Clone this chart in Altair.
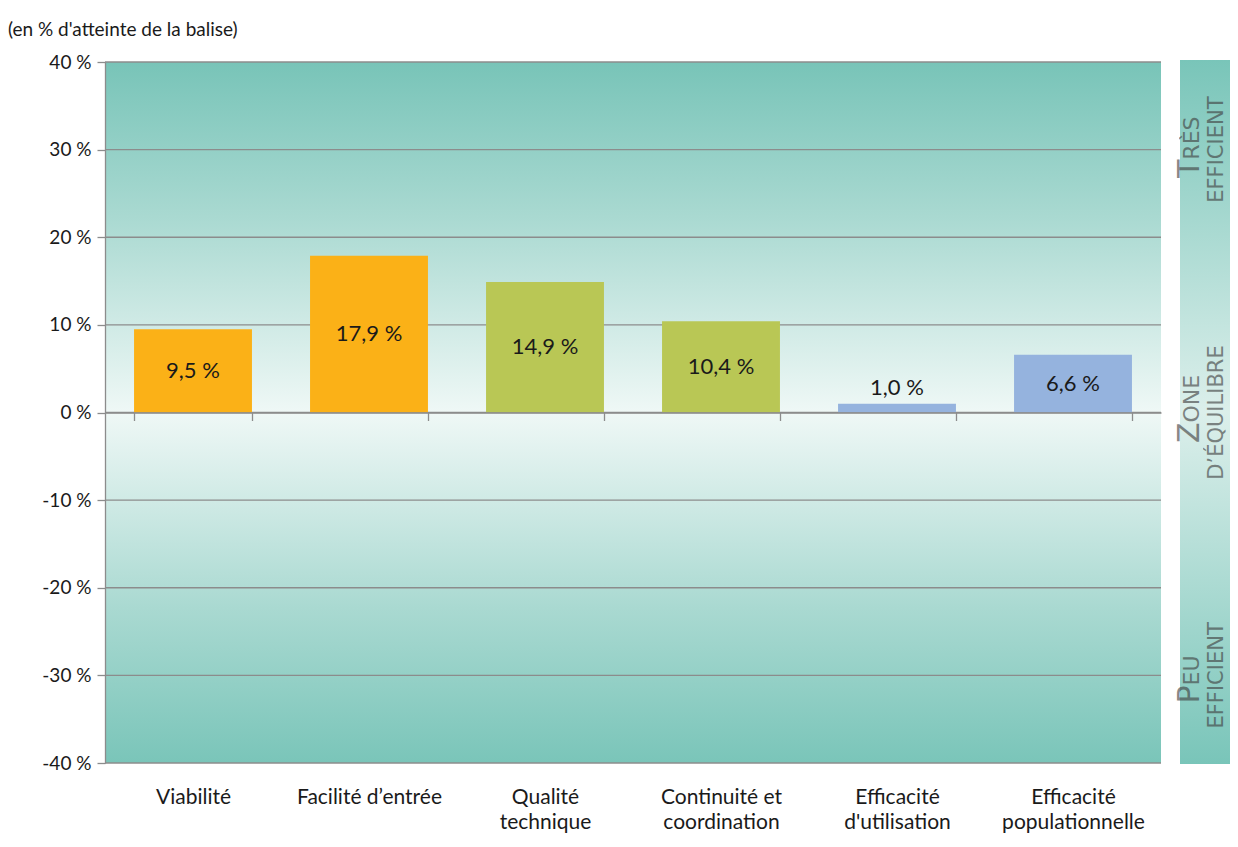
import altair as alt
import pandas as pd

# ---------------- data ----------------
categories = [
    "Viabilité",
    "Facilité d’entrée",
    "Qualité\ntechnique",
    "Continuité et\ncoordination",
    "Efficacité\nd'utilisation",
    "Efficacité\npopulationnelle",
]
values = [9.5, 17.9, 14.9, 10.4, 1.0, 6.6]
bar_colors = ["#FBB117", "#FBB117", "#B9C755", "#B9C755", "#95B3DE", "#95B3DE"]
y_ticks = [-40, -30, -20, -10, 0, 10, 20, 30, 40]
y_domain = [-40, 40]

zone_initials = ["T", "Z", "P"]
zone_rest = ["RÈS", "ONE", "EU"]
zone_line2 = ["EFFICIENT", "D’ÉQUILIBRE", "EFFICIENT"]
zone_centers = [30, 0, -30]

title_text = "(en % d'atteinte de la balise)"

# ---------------- layout ----------------
W, H = 1056, 701
PAD = {"left": 97, "top": 54, "right": 69, "bottom": 71}
FONT = "Lato"
TXT = "#1a1a1a"
GRID = "#8c8c8c"

df = pd.DataFrame({"cat": categories, "value": values})
ticks_df = pd.DataFrame({"v": y_ticks})
bg_df = pd.DataFrame({"top": [y_domain[1]], "bottom": [y_domain[0]]})
zones_df = pd.DataFrame({
    "initial": zone_initials,
    "rest": zone_rest,
    "line2": zone_line2,
    "center": zone_centers,
})

yscale = alt.Scale(domain=y_domain, nice=False, zero=False)
xscale = alt.Scale(domain=categories, paddingInner=0.33, paddingOuter=0.165)

bg_grad = alt.LinearGradient(
    gradient="linear",
    stops=[
        alt.GradientStop(color="#78c4b8", offset=0),
        alt.GradientStop(color="#a9d9d1", offset=0.22),
        alt.GradientStop(color="#eff8f6", offset=0.5),
        alt.GradientStop(color="#a9d9d1", offset=0.78),
        alt.GradientStop(color="#7ac5b9", offset=1),
    ],
    x1=0, x2=0, y1=0, y2=1,
)
panel_grad = alt.LinearGradient(
    gradient="linear",
    stops=[
        alt.GradientStop(color="#79c5b9", offset=0),
        alt.GradientStop(color="#dcefeb", offset=0.5),
        alt.GradientStop(color="#79c5b9", offset=1),
    ],
    x1=0, x2=0, y1=0, y2=1,
)

yaxis = alt.Axis(
    values=y_ticks, labelExpr="datum.value + ' %'", grid=False,
    domainColor=GRID, domainWidth=1.3, tickColor=GRID, tickWidth=1.3, tickSize=8,
    labelPadding=6, labelFont=FONT, labelFontSize=19, labelColor=TXT,
    title=None, zindex=1,
)
xaxis = alt.Axis(
    orient="bottom", offset=-H / 2, domainColor=GRID, domainWidth=1.5,
    tickColor=GRID, tickWidth=1.3, tickSize=8, tickBand="extent",
    labelExpr="split(datum.label, '\\n')", labelPadding=366, labelLineHeight=25,
    labelFont=FONT, labelFontSize=21, labelColor=TXT, labelAngle=0,
    labelLimit=400, labelOverlap=False, title=None, zindex=1,
)

background = alt.Chart(bg_df).mark_rect(fill=bg_grad).encode(
    x=alt.value(0), x2=alt.value(W),
    y=alt.Y("top:Q", scale=yscale, axis=yaxis), y2="bottom:Q",
)

grid = alt.Chart(ticks_df).mark_rule(color=GRID, strokeWidth=1.3).encode(
    y=alt.Y("v:Q", scale=yscale, axis=yaxis)
)

bars = alt.Chart(df).mark_bar().encode(
    x=alt.X("cat:N", sort=categories, scale=xscale, axis=xaxis),
    y=alt.Y("value:Q", scale=yscale, axis=yaxis),
    y2=alt.datum(0),
    color=alt.Color("cat:N", scale=alt.Scale(domain=categories, range=bar_colors), legend=None),
)

bar_labels = alt.Chart(df).transform_calculate(
    labelPos="max(datum.value / 2, 2.8)",
    labelText="replace(format(datum.value, '.1f'), '.', ',') + ' %'",
).mark_text(font=FONT, fontSize=22, color=TXT, baseline="middle").encode(
    x=alt.X("cat:N", sort=categories, scale=xscale, axis=xaxis),
    y=alt.Y("labelPos:Q", scale=yscale, axis=yaxis),
    text="labelText:N",
)

panel = alt.Chart(bg_df).mark_rect(fill=panel_grad).encode(
    x=alt.value(1075), x2=alt.value(W + PAD["right"]),
    y=alt.value(-2), y2=alt.value(H + 1),
)

zone_style = dict(angle=270, baseline="alphabetic", font="DejaVu Sans",
                  color="#404040", opacity=0.62)
zone_initial = alt.Chart(zones_df).mark_text(align="right", fontSize=30, dx=-10, **zone_style).encode(
    x=alt.value(1094), y=alt.Y("center:Q", scale=yscale, axis=yaxis), text="initial:N"
)
zone_rest_t = alt.Chart(zones_df).mark_text(align="left", fontSize=22, dx=-10, **zone_style).encode(
    x=alt.value(1094), y=alt.Y("center:Q", scale=yscale, axis=yaxis), text="rest:N"
)
zone_l2 = alt.Chart(zones_df).mark_text(align="center", fontSize=21, **zone_style).encode(
    x=alt.value(1118), y=alt.Y("center:Q", scale=yscale, axis=yaxis), text="line2:N"
)

chart = alt.layer(
    background, grid, bars, bar_labels, panel, zone_initial, zone_rest_t, zone_l2
).properties(
    width=W, height=H,
    padding=PAD,
    autosize=alt.AutoSizeParams(type="none"),
    title=alt.TitleParams(
        text=title_text, anchor="start", frame="group", dx=-97, offset=13,
        font=FONT, fontSize=19, fontWeight="normal", color=TXT,
    ),
).configure_view(strokeWidth=0)

chart.save("out.html", embed_options={"renderer": "svg", "actions": False})
